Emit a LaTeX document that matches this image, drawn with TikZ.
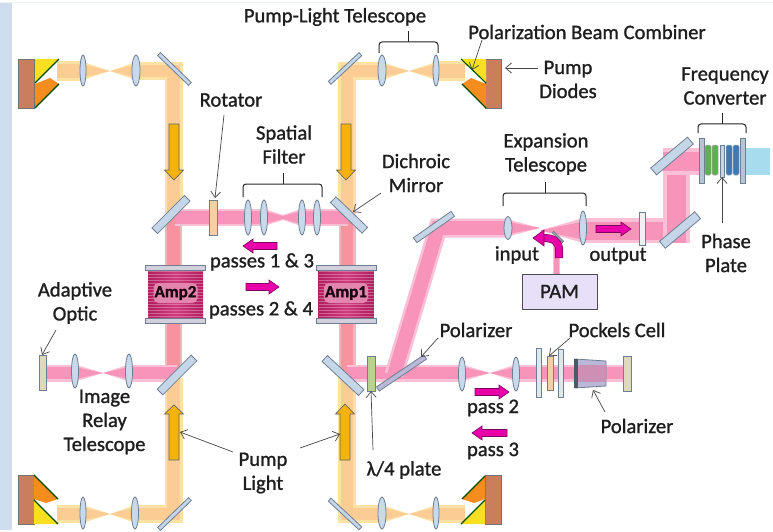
\documentclass[tikz,border=0pt]{standalone}
\usepackage{fontspec}
\setmainfont{Carlito}[FakeBold=1.1]
\usetikzlibrary{shapes.geometric,arrows.meta}
\definecolor{pkE}{HTML}{FBC0D6}\definecolor{pkC}{HTML}{F893BA}
\definecolor{puE}{HTML}{FDE2A6}\definecolor{puC}{HTML}{FBCD95}
\definecolor{saE}{HTML}{FAB4BE}\definecolor{saC}{HTML}{F7939F}
\definecolor{edgeC}{HTML}{6F7F92}\definecolor{lensF}{HTML}{C9D9EC}
\definecolor{mirF}{HTML}{C5D6E8}\definecolor{brownF}{HTML}{C97F5C}
\definecolor{magF}{HTML}{E800A8}\definecolor{goldF}{HTML}{F5B30A}
\definecolor{ampF}{HTML}{D03A7E}\definecolor{ampD}{HTML}{B01F5E}\definecolor{txt}{HTML}{1E1E1E}
\definecolor{stripC}{HTML}{CFDEEE}\definecolor{orgF}{HTML}{F58C1E}
\definecolor{yelF}{HTML}{F8E020}\definecolor{skyF}{HTML}{A6DCEE}
\definecolor{peach}{HTML}{F3D0A8}\definecolor{polF}{HTML}{BAB8D8}
\definecolor{sand}{HTML}{DED8C0}\definecolor{qwF}{HTML}{B8D28C}
\definecolor{paleF}{HTML}{DEE8E8}\definecolor{trapF}{HTML}{CD8FB4}
\definecolor{grnF}{HTML}{5FAE52}\definecolor{bluF}{HTML}{3F78B4}
\definecolor{pamF}{HTML}{E8E0F8}
\tikzset{
 lab/.style={font=\fontsize{20.6}{22}\selectfont,text=txt,inner sep=0pt,align=center},
 lens/.style={ellipse,draw=edgeC,fill=lensF,line width=.8pt,inner sep=0pt},
 mirror/.style={rectangle,draw=edgeC,fill=mirF,line width=.8pt,inner sep=0pt},
 plate/.style={rectangle,draw=edgeC,line width=.7pt,inner sep=0pt},
 crystal/.style={rectangle,rounded corners=1.5pt,draw=black!35,line width=.5pt,inner sep=0pt,minimum width=6pt,minimum height=30pt},
 leader/.style={draw=black!72,line width=.7pt,-{Straight Barb[length=6pt,width=10pt]}},
 brk/.style={draw=black!85,line width=1pt,rounded corners=3pt},
 chipB/.style={draw=black!55,line width=.7pt,fill=brownF},
 dk/.style={draw=black!70!green,line width=1.1pt},
}
\newcommand\myband[5]{\draw[line width=#3pt,#1,line join=miter] #5;\draw[line width=#4pt,#2,line join=miter] #5;}
\newcommand\myPK[2]{\myband{pkE}{pkC}{#1}{.72*#1}{#2}}
\newcommand\myPU[2]{\myband{puE}{puC}{#1}{.72*#1}{#2}}
\newcommand\mySA[2]{\myband{saE}{saC}{#1}{.72*#1}{#2}}
\newcommand\mycone[6]{\fill[#5] (#1,#2-#3)--(#4,#2)--(#1,#2+#3)--cycle;\fill[#6] (#1,#2-.72*#3)--(#4,#2)--(#1,#2+.72*#3)--cycle;}
\newcommand\myparrow[3]{%
 \pgfmathsetmacro\myneck{#2+(#1-#2)/abs(#1-#2)*10}
 \draw[draw=black!45!magF,fill=magF,line width=.6pt,line join=miter] (#1,#3-3.5)--(\myneck,#3-3.5)--(\myneck,#3-7)--(#2,#3)--(\myneck,#3+7)--(\myneck,#3+3.5)--(#1,#3+3.5)--cycle;}
\newcommand\mygarrow[4]{%
 \draw[draw=black!60,fill=goldF,line width=.7pt,line join=miter] (#1-5,#2)--(#1-5,#4)--(#1-9.5,#4)--(#1,#3)--(#1+9.5,#4)--(#1+5,#4)--(#1+5,#2)--cycle;}
\newcommand\mybrk[5]{\draw[brk] (#1,#3)--(#1,#4)--(#5,#4)--(#2,#4)--(#2,#3);\draw[brk] (#5,#4)--(#5,#4-11);}
\newcommand\myamp[2]{%
 \shade[left color=ampD,right color=ampD,middle color=ampF] (#1-27.5,270) rectangle (#1+27.5,318);
 \foreach \yy in {271.5,274.5,...,317}{\draw[white!70!ampF,opacity=.4,line width=.5pt] (#1-27.5,\yy)--(#1+27.5,\yy);}
 \foreach \yy in {267.5,320.5}{\node[mirror,fill=mirF!75!pink,minimum width=60pt,minimum height=5pt] at (#1,\yy) {};}
 \node[rectangle,rounded corners=5pt,fill=ampF!62!white,inner sep=1pt,minimum width=44pt,minimum height=20pt,font=\fontsize{17}{18}\selectfont\bfseries,text=black!85!ampD] (#2) at (#1,293) {#2};}
\begin{document}
\begin{tikzpicture}[x=1pt,y=-1pt]
\useasboundingbox (0,0) rectangle (773,532);
\fill[white] (0,0) rectangle (773,532);
\fill[stripC!40!white] (0,2) rectangle (773,3);
\fill[stripC] (0,3) rectangle (12,530);

% ---- pump beams
\myPU{20}{(57,71)--(83,71)}\mycone{83}{71}{9}{110}{puE}{puC}\mycone{136}{71}{9}{110}{puE}{puC}
\myPU{18}{(136,71)--(173.5,71)--(173.5,215)}
\myPU{20}{(465,71)--(436,71)}\mycone{436}{71}{9}{409}{puE}{puC}\mycone{382}{71}{9}{409}{puE}{puC}
\myPU{18}{(382,71)--(347,71)--(347,215)}
\myPU{18}{(57,514)--(83,514)}\mycone{83}{514}{9}{110}{puE}{puC}\mycone{135}{514}{9}{110}{puE}{puC}
\myPU{18}{(135,514)--(173.5,514)--(173.5,378)}
\myPU{18}{(465,514)--(436,514)}\mycone{436}{514}{9}{409}{puE}{puC}\mycone{382}{514}{9}{409}{puE}{puC}
\myPU{18}{(382,514)--(347,514)--(347,378)}
% ---- pink beams
\mySA{17}{(173.5,217)--(173.5,375)}\mySA{17}{(347,217)--(347,375)}
\myPK{17}{(175,217.5)--(264,217.5)}\myPK{17}{(301,217.5)--(348,217.5)}
\fill[pkE] (264,209)--(283,215)--(301,209)--(301,226)--(283,220)--(264,226)--cycle;
\fill[pkC] (264,211)--(283,216)--(301,211)--(301,224)--(283,219)--(264,224)--cycle;
\myPK{17}{(46,373)--(75,373)}\mycone{75}{373}{8.5}{103}{pkE}{pkC}\mycone{129}{373}{8.5}{103}{pkE}{pkC}
\myPK{17}{(129,373)--(177,373)}
\myPK{17}{(347,373)--(462,373)}\mycone{462}{373}{8.5}{490}{pkE}{pkC}\mycone{516}{373}{8.5}{490}{pkE}{pkC}
\myPK{17}{(516,373)--(623,373)}
\myPK{19}{(394,375)--(438,228)--(508,228)}
\mycone{508}{228}{8.5}{540}{pkE}{pkC}\mycone{583}{230.5}{12.5}{540}{pkE}{pkC}
\myPK{7}{(556.5,274)--(556.5,237)}
\myPK{25}{(583,230.5)--(676.5,230.5)}
\myPK{27}{(676.5,243)--(676.5,161.5)}
\myPK{27}{(663,161.5)--(706,161.5)}
\fill[skyF] (744,148) rectangle (770,175);

% ---- diodes
\node[chipB,minimum width=16pt,minimum height=49pt,inner sep=0pt] (dTL) at (26.5,83.5) {};
\fill[yelF] (35,59)--(59,59)--(35,83)--cycle;
\fill[orgF] (35,84)--(50,78)--(59,84)--(35,108)--cycle;
\draw[dk] (35,83)--(59,59);\draw[dk] (35,108)--(59,84);
\node[chipB,minimum width=16pt,minimum height=49pt,inner sep=0pt] (dTR) at (493.5,83.5) {};
\fill[yelF] (486,59)--(461,59)--(486,83)--cycle;
\fill[orgF] (486,84)--(471,78)--(462,84)--(486,108)--cycle;
\draw[dk] (486,83)--(461,59);\draw[dk] (486,108)--(462,84);
\node[chipB,minimum width=16pt,minimum height=49pt,inner sep=0pt] (dBL) at (26,499.5) {};
\fill[orgF] (34,475)--(58,499)--(46,503)--(34,499)--cycle;
\fill[yelF] (34,500)--(58,524)--(34,524)--cycle;
\draw[dk] (34,475)--(58,499);\draw[dk] (34,500)--(58,524);
\node[chipB,minimum width=16pt,minimum height=49pt,inner sep=0pt] (dBR) at (493,499.5) {};
\fill[orgF] (485,476)--(462,499)--(474,503)--(485,499)--cycle;
\fill[yelF] (485,500)--(461,524)--(485,524)--cycle;
\draw[dk] (485,476)--(462,499);\draw[dk] (485,500)--(461,524);

% ---- lenses
\foreach \nn/\xx/\yy/\ww/\hh in {a/83/70.5/6/31,b/136/70.5/8/31,c/382/70.5/8/31,d/436/70.5/6/31,
 e/83/513/6/32,f/135/513/7/32,g/382/513/8/32,h/436/513/6/32,
 i/248/217.5/7/35,j/264/217.5/7/35,k/302/217.5/7/35,l/317/217.5/7/35,
 m/75/371/7/34,n/129/371/7/34,o/462/374/7/34,p/516/374/7/34,q/508/228/8/23,r/583/228/7/34}
 {\node[lens,minimum width=\ww pt,minimum height=\hh pt] (L\nn) at (\xx,\yy) {};}

% ---- mirrors
\foreach \nn/\xx/\yy/\ll/\tth/\rr in {a/174.5/69/43/4/-44,b/345/68.5/42/4/43,c/174.5/514/43/4/44,d/345/514/42/4/-43,
 e/171/214.5/46/8/45,f/349/215/44/8/-44,g/177/375/48/8/45,h/343/375.5/50/8/-43,i/434/227/46/6/35,
 j/680/230/46/9/40,k/672/156/48/9/40}
 {\node[mirror,minimum width=\ll pt,minimum height=\tth pt,rotate=\rr] (M\nn) at (\xx,\yy) {};}
\node[mirror,fill=black!35,minimum width=14pt,minimum height=2pt,rotate=-45] (Mp) at (558,237) {};
\node[mirror,fill=polF,minimum width=57pt,minimum height=5pt,rotate=34] (Pol) at (401.5,373) {};

% ---- plates
\node[plate,fill=peach,minimum width=8pt,minimum height=35pt] (Rot) at (213,217.5) {};
\node[plate,fill=sand,minimum width=7pt,minimum height=35pt] (AO) at (42.5,372.5) {};
\node[plate,fill=qwF,minimum width=8pt,minimum height=35pt] (QW) at (371,373.5) {};
\node[plate,fill=white!88!gray,minimum width=6pt,minimum height=33pt] (Out) at (642,228.5) {};
\node[plate,fill=paleF,minimum width=5pt,minimum height=49pt] (P1) at (539,372.5) {};
\node[plate,fill=peach,minimum width=6pt,minimum height=34pt] (Pk) at (550,373) {};
\node[plate,fill=paleF,minimum width=5pt,minimum height=48pt] (P2) at (560.5,373) {};
\node[plate,fill=sand,minimum width=8pt,minimum height=35pt] (End) at (627,373.5) {};
\draw[edgeC,fill=polF,line width=.8pt] (575,359)--(606,361)--(606,386)--(575,388)--cycle;
\fill[trapF] (578,365) rectangle (605.5,381.5);
\fill[edgeC!70!black] (574,359) rectangle (578,388);

% ---- frequency converter
\foreach \xx in {708,715}{\node[crystal,fill=grnF] at (\xx,160) {};}
\foreach \xx in {729,736}{\node[crystal,fill=bluF] at (\xx,160) {};}
\node[plate,fill=gray!35,minimum width=4pt,minimum height=32pt] (PP) at (722,161) {};
\node[plate,fill=mirF!80!gray,minimum width=5pt,minimum height=45pt] (FC1) at (702,160.5) {};
\node[plate,fill=mirF!80!gray,minimum width=5pt,minimum height=45pt] (FC2) at (742.5,160.5) {};

% ---- amps
\myamp{175.5}{Amp2}
\myamp{346}{Amp1}

% ---- PAM
\node[rectangle,draw=black!70,line width=.9pt,fill=pamF,minimum width=75pt,minimum height=35pt,inner sep=0pt,font=\fontsize{20.6}{22}\selectfont,text=txt] (PAM) at (559.5,291.5) {PAM};

% ---- arrows
\mygarrow{174}{124}{180}{170}\mygarrow{346}{124}{180}{170}
\mygarrow{174}{460}{405}{414}\mygarrow{345}{460}{404}{414}
\myparrow{277}{243}{246}\myparrow{246}{279}{287}\myparrow{596}{631}{229}
\myparrow{475}{509}{392}\myparrow{507}{472}{433}
\draw[black!45!magF,line width=8pt] (559,258)--(559,250) .. controls (559,241) and (553,238) .. (543,238);
\draw[magF,line width=6.6pt] (559,257.5)--(559,250) .. controls (559,241) and (553,238) .. (543,238);
\draw[draw=black!45!magF,fill=magF,line width=.6pt] (544,230)--(533,238)--(544,246)--cycle;

% ---- brackets
\mybrk{379}{438}{53}{42}{408.5}
\mybrk{243}{322}{197}{184}{283}
\mybrk{503}{586}{206}{193}{545}
\mybrk{698}{746}{133}{124}{722}

% ---- labels
\node[lab] (tA) at (335,17) {Pump-Light Telescope};
\node[lab] (tB) at (587,32) {Polarization Beam Combiner};
\node[lab] (tC) at (568,79.5) {Pump\\[2pt]Diodes};
\node[lab] (tD) at (231,100) {Rotator};
\node[lab] (tE) at (284,144.5) {Spatial\\[2pt]Filter};
\node[lab] (tF) at (416,173) {Dichroic\\[2pt]Mirror};
\node[lab] (tG) at (546,154) {Expansion\\[2pt]Telescope};
\node[lab] (tH) at (725,86) {Frequency\\[2pt]Converter};
\node[lab] (tI) at (726,253) {Phase\\[2pt]Plate};
\node[lab] (tJ) at (517,255) {input};
\node[lab] (tK) at (618,256) {output};
\node[lab] (tL) at (262,262) {passes 1 \& 3};
\node[lab] (tM) at (261,310) {passes 2 \& 4};
\node[lab] (tN) at (75,303) {Adaptive\\[2pt]Optic};
\node[lab] (tO) at (104.5,422) {Image\\[2pt]Relay\\[2pt]Telescope};
\node[lab] (tP) at (263,473) {Pump\\[2pt]Light};
\node[lab] (tQ) at (476,330) {Polarizer};
\node[lab] (tR) at (617,330) {Pockels Cell};
\node[lab] (tS) at (637,426) {Polarizer};
\node[lab] (tT) at (493,408) {pass 2};
\node[lab] (tU) at (493,451) {pass 3};
\node[lab] (tV) at (404,470) {λ/4 plate};

% ---- leaders
\foreach \nn/\ax/\ay/\bx/\by in {a/482/40/472/70,b/538/68/505/68,c/224/115/215/198,d/381/193/353/212,
 e/722/223/722/177,f/56/330/42/355,g/233/452/180/432,h/300/448/340/434,i/438/338/421/357,
 j/570/338/549/356,k/605/412/593/390,l/373/450/371/391}
 {\coordinate (s\nn) at (\ax,\ay);\coordinate (e\nn) at (\bx,\by);\draw[leader] (s\nn)--(e\nn);}
\end{tikzpicture}
\end{document}
